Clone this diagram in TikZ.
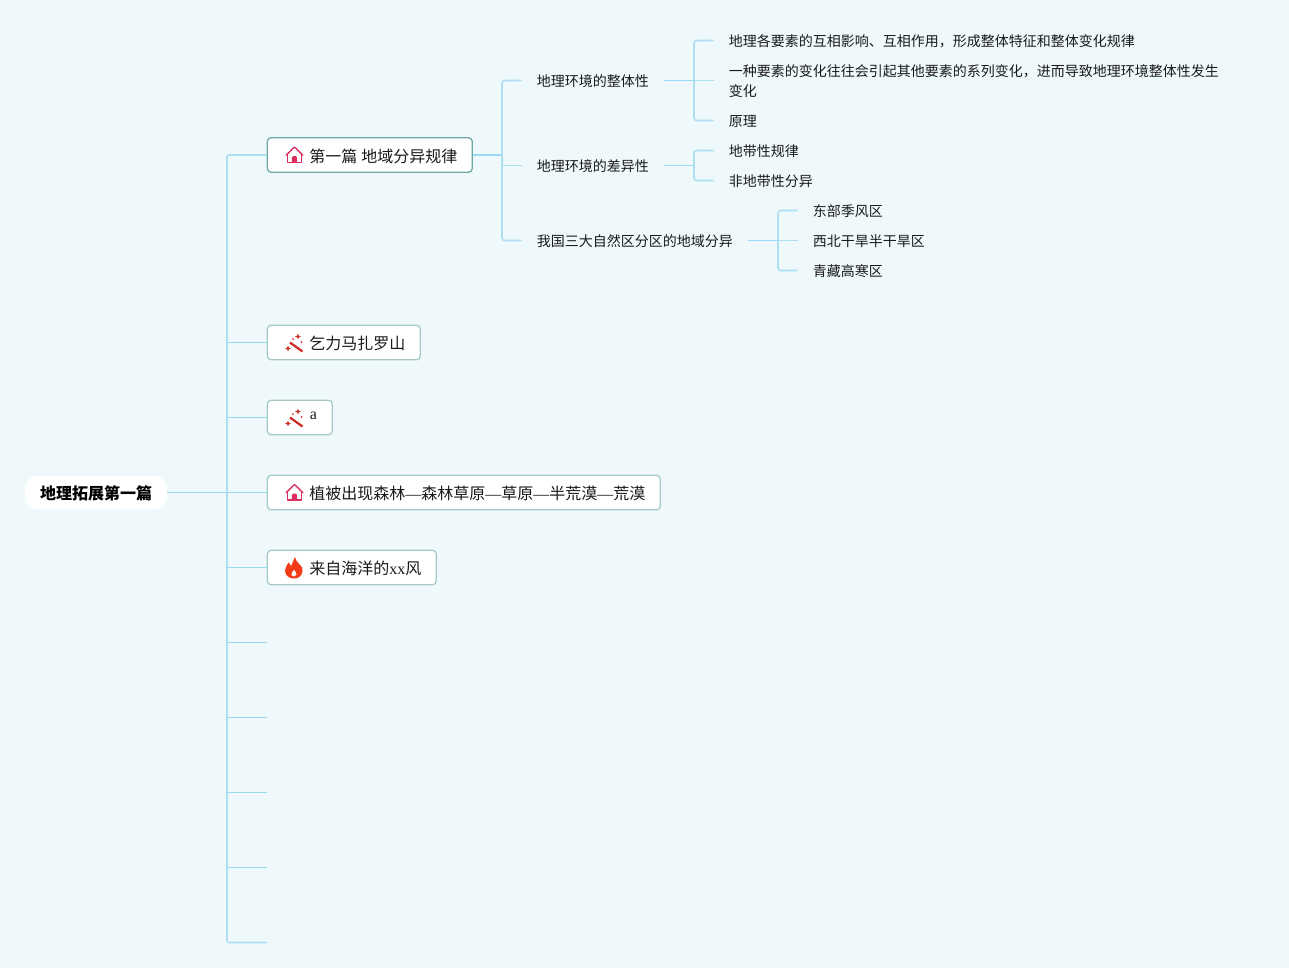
\documentclass[tikz,border=0pt]{standalone}
\usepackage{fontspec}
\setmainfont{Noto Sans CJK SC}
\newfontfamily\lat{Liberation Serif}
\definecolor{bgc}{HTML}{EFF9FC}
\definecolor{linec}{HTML}{ADDFF3}
\definecolor{thinc}{HTML}{97D9EE}
\definecolor{thickc}{HTML}{98DBF6}
\definecolor{txtc}{HTML}{1A1A1A}
\definecolor{homec}{HTML}{DC2F5F}
\definecolor{wandc}{HTML}{CF2F28}
\definecolor{firec}{HTML}{F23A17}
\definecolor{edgea}{HTML}{6FA8A6}
\definecolor{edgeb}{HTML}{A3CAC9}
\tikzset{
  rootbox/.style={fill=white,rounded corners=9pt,text=black,inner xsep=11.25pt,inner ysep=0pt,minimum height=24.75pt,text height=13.2pt,text depth=2.2pt,font=\fontsize{12}{14}\selectfont\bfseries},
  topicbox/.style={draw=#1,line width=0.95pt,fill=white,rounded corners=3pt,anchor=west,text=txtc,inner xsep=11.25pt,inner ysep=0pt,minimum height=26pt,text height=13pt,text depth=2.2pt,font=\fontsize{12}{14}\selectfont},
  subtxt/.style={anchor=west,text=txtc,inner xsep=11.25pt,inner ysep=0pt,text height=11.6pt,text depth=2pt,font=\fontsize{10.5}{15}\selectfont,align=left},
  trunkline/.style={draw=linec,line width=1.15pt,rounded corners=1.5pt},
  twig/.style={draw=thinc,line width=0.7pt},
  fork/.style={draw=linec,line width=1.15pt,rounded corners=2pt},
  stem/.style={draw=thickc,line width=1.35pt},
}
\newcommand{\iconpad}{\hspace*{20.25pt}}
\newcommand{\homeicon}[2]{\begin{scope}[shift={(#1,#2)}]
  \draw[homec,line width=1.05pt,line join=round,line cap=round] (-8.3,0.2)--(0,-8)--(8.3,0.2);
  \draw[homec,line width=1.05pt,line join=round] (-7,-1)--(-7,7.6)--(7,7.6)--(7,-1);
  \fill[homec,rounded corners=1pt] (-2.6,7.8)--(-2.6,1.2)--(2.6,1.2)--(2.6,7.8)--cycle;
\end{scope}}
\newcommand{\wandicon}[2]{\begin{scope}[shift={(#1,#2)}]
  \draw[wandc,line width=1.7pt] (-4,0)--(8.5,9);
  \fill[wandc] (4,-8.8)--(4.9,-6.9)--(6.8,-6)--(4.9,-5.1)--(4,-3.2)--(3.1,-5.1)--(1.2,-6)--(3.1,-6.9)--cycle;
  \fill[wandc] (-6,3.2)--(-5.1,5.1)--(-3.2,6)--(-5.1,6.9)--(-6,8.8)--(-6.9,6.9)--(-8.8,6)--(-6.9,5.1)--cycle;
  \fill[wandc] (7.6,-0.5) circle (1);
  \fill[wandc] (-1,-3.4) circle (1);
\end{scope}}
\newcommand{\fireicon}[2]{\begin{scope}[shift={(#1,#2)}]
  \fill[firec,even odd rule] (0,11) .. controls (-5.5,11) and (-9,7.5) .. (-9,3) .. controls (-9,-0.5) and (-6.5,-2.5) .. (-5.5,-5) .. controls (-3.5,-3.5) and (-3.5,-2) .. (-3,-1) .. controls (-1.5,-3.5) and (-1,-7) .. (1,-10.5) .. controls (1.5,-6) and (6,-3.5) .. (8,0) .. controls (9.8,4) and (7.5,11) .. (0,11) -- cycle
  (0,9.2) .. controls (-2.4,9.2) and (-3.2,7.2) .. (-2.4,5.5) .. controls (-1.7,4.2) and (-0.6,3.6) .. (0,2) .. controls (0.8,3.6) and (3.2,5.4) .. (2.6,7.3) .. controls (2.2,8.6) and (1.2,9.2) .. (0,9.2) -- cycle;
\end{scope}}
\begin{document}
\begin{tikzpicture}[x=0.75pt,y=-0.75pt]
\useasboundingbox (0,0) rectangle (1289,968);
\fill[bgc] (0,0) rectangle (1289,968);

% nodes
\node[rootbox] (root) at (96,492.5) {地理拓展第一篇};
\node[topicbox=edgea] (n1) at (266.7,155) [minimum width=153.75pt] {\iconpad 第一篇{\lat\ }地域分异规律};
\node[topicbox=edgeb] (n2) at (266.7,342.5) [minimum width=114.75pt] {\iconpad 乞力马扎罗山};
\node[topicbox=edgeb] (n3) at (266.7,417.5) [minimum width=48.75pt] {\iconpad \raisebox{3.6pt}{\lat a}};
\node[topicbox=edgeb] (n4) at (266.7,492.5) [minimum width=294.75pt] {\iconpad 植被出现森林{\lat —}森林草原{\lat —}草原{\lat —}半荒漠{\lat —}荒漠};
\node[topicbox=edgeb] (n5) at (266.7,567.5) [minimum width=126.75pt] {\iconpad 来自海洋的{\lat xx}风};

\node[subtxt] (a) at (521.7,80.5) {地理环境的整体性};
\node[subtxt] (b) at (521.7,165.5) {地理环境的差异性};
\node[subtxt] (c) at (521.7,240.5) {我国三大自然区分区的地域分异};

\node[subtxt] (a1) at (713.7,40.5) {地理各要素的互相影响、互相作用，形成整体特征和整体变化规律};
\node[subtxt,text height=26.6pt] (a2) at (713.7,80.5) {一种要素的变化往往会引起其他要素的系列变化，进而导致地理环境整体性发生\\变化};
\node[subtxt] (a3) at (713.7,120.5) {原理};
\node[subtxt] (b1) at (713.7,150.5) {地带性规律};
\node[subtxt] (b2) at (713.7,180.5) {非地带性分异};
\node[subtxt] (c1) at (797.7,210.5) {东部季风区};
\node[subtxt] (c2) at (797.7,240.5) {西北干旱半干旱区};
\node[subtxt] (c3) at (797.7,270.5) {青藏高寒区};

% junctions and free ends
\coordinate (j0) at (227,492.5);
\coordinate (j1) at (502,155);
\coordinate (ja) at (694,80.5);
\coordinate (jb) at (694,165.5);
\coordinate (jc) at (778,240.5);
\coordinate (e6) at (267,642.5);
\coordinate (e7) at (267,717.5);
\coordinate (e8) at (267,792.5);
\coordinate (e9) at (267,867.5);
\coordinate (e10) at (267,942.5);

% connectors
\draw[twig] (root.east) -- (n4.west);
\draw[trunkline] (j0) |- (n1.west);
\draw[trunkline] (j0) |- (e10);
\draw[twig] (j0 |- n2.west) -- (n2.west);
\draw[twig] (j0 |- n3.west) -- (n3.west);
\draw[twig] (j0 |- n5.west) -- (n5.west);
\draw[twig] (j0 |- e6) -- (e6);
\draw[twig] (j0 |- e7) -- (e7);
\draw[twig] (j0 |- e8) -- (e8);
\draw[twig] (j0 |- e9) -- (e9);

\draw[stem] (n1.east) -- (j1);
\draw[fork] (j1) |- (a.west);
\draw[fork] (j1) |- (c.west);
\draw[fork] (j1 |- b.west) -- (b.west);

\draw[stem] (a.east) -- (ja);
\draw[fork] (ja) |- (a1.west);
\draw[fork] (ja) |- (a3.west);
\draw[fork] (ja) -- (a2.west);

\draw[stem] (b.east) -- (jb);
\draw[fork] (jb) |- (b1.west);
\draw[fork] (jb) |- (b2.west);

\draw[stem] (c.east) -- (jc);
\draw[fork] (jc) |- (c1.west);
\draw[fork] (jc) |- (c3.west);
\draw[fork] (jc) -- (c2.west);

% icons
\homeicon{294.5}{155}
\wandicon{294}{342.5}
\wandicon{294}{417.5}
\homeicon{294.5}{492.5}
\fireicon{294}{567.5}
\end{tikzpicture}
\end{document}
